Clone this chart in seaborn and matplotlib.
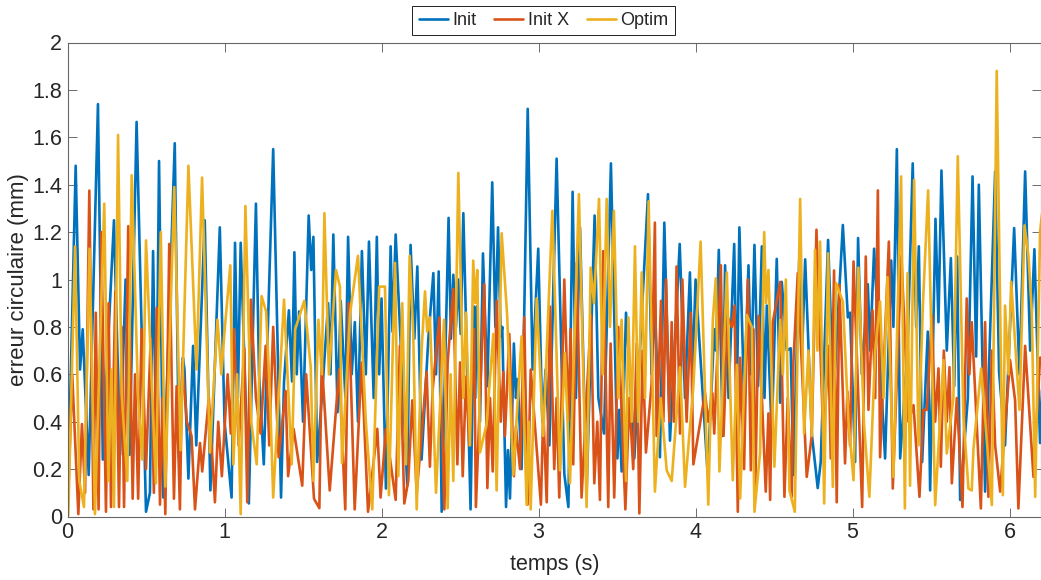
import seaborn as sns
import matplotlib
matplotlib.use("Agg")
import matplotlib.pyplot as plt

t_init = [0, .052, .08, .097, .135, .194, .225, .25, .296, .335, .37, .395, .44, .5, .525, .545, .565, .583, .61, .683,
          .71, .735, .745, .77, .80, .82, .874, .91, .97, 1.0, 1.045, 1.067, 1.085, 1.103, 1.155, 1.2, 1.22, 1.25, 1.31, 1.36,
          1.379, 1.41, 1.43, 1.445, 1.46, 1.475, 1.5, 1.536, 1.552, 1.566, 1.59, 1.63, 1.66, 1.675, 1.693, 1.72, 1.74, 1.77, 1.787, 1.81,
          1.83, 1.85, 1.875, 1.9, 1.92, 1.95, 1.97, 1.985, 2.0, 2.028, 2.058, 2.07, 2.09, 2.164, 2.185, 2.209, 2.228, 2.255, 2.298, 2.33,
          2.347, 2.364, 2.383, 2.427, 2.442, 2.457, 2.474, 2.489, 2.504, 2.521, 2.567, 2.589, 2.597, 2.606, 2.627, 2.646, 2.674, 2.705, 2.725, 2.742,
          2.759, 2.769, 2.793, 2.805, 2.818, 2.843, 2.856, 2.867, 2.892, 2.931, 2.962, 2.998, 3.024, 3.045, 3.069, 3.115, 3.164, 3.19, 3.217, 3.238,
          3.264, 3.306, 3.357, 3.381, 3.417, 3.461, 3.502, 3.514, 3.529, 3.557, 3.582, 3.61, 3.697, 3.72, 3.741, 3.773, 3.801, 3.837, 3.899, 3.933,
          3.964, 3.981, 4.0, 4.077, 4.119, 4.13, 4.148, 4.173, 4.188, 4.21, 4.246, 4.263, 4.279, 4.309, 4.337, 4.354, 4.375, 4.398, 4.422, 4.439,
          4.454, 4.485, 4.517, 4.539, 4.549, 4.581, 4.606, 4.623, 4.662, 4.679, 4.698, 4.74, 4.778, 4.797, 4.844, 4.878, 4.938, 4.97, 4.984, 5.016,
          5.035, 5.059, 5.097, 5.112, 5.137, 5.207, 5.246, 5.26, 5.282, 5.303, 5.35, 5.383, 5.405, 5.422, 5.443, 5.479, 5.494, 5.528, 5.547, 5.566,
          5.6, 5.626, 5.647, 5.666, 5.685, 5.734, 5.764, 5.787, 5.804, 5.844, 5.908, 5.933, 5.971, 6.029, 6.063, 6.099, 6.131, 6.158, 6.194, 6.21]
y_init = [0, 1.48, .62, .79, .175, 1.74, .24, .62, 1.25, .26, 1.0, .26, 1.665, .02, .1, 1.12, .3, 1.5, .08, 1.575,
          .25, .67, .62, .16, .72, .3, 1.25, .11, 1.22, .4, .08, 1.155, .5, 1.155, .055, 1.32, .6, .22, 1.55, .08,
          .57, .87, .57, 1.115, .6, .865, .4, 1.27, 1.04, 1.18, .23, .6, .9, .6, 1.19, .44, .91, .5, 1.18, .6,
          .82, .4, 1.12, .6, 1.16, .5, 1.18, .6, .92, .118, 1.14, .78, 1.19, .13, 1.146, .75, 1.055, .24, .75, 1.027,
          .6, 1.034, .02, 1.26, .75, 1.02, .8, 1.0, .77, 1.28, .03, .886, .5, .886, .4, 1.11, .55, 1.41, .8, 1.22,
          .76, .8, .04, .28, .076, .73, .5, .58, .2, 1.72, .62, 1.13, .4, .62, .3, 1.51, .18, .04, 1.37, .5,
          1.22, .1, 1.27, .5, .35, 1.49, .245, .45, .19, .86, .6, .245, 1.36, .6, .9, .25, 1.24, .32, 1.15, .5,
          1.03, .6, 1.0, .18, .79, .7, 1.125, .34, 1.06, .5, 1.15, .5, 1.22, .5, 1.06, .6, 1.146, .55, 1.14, .5,
          .89, .35, 1.087, .48, .99, .7, .71, .175, 1.125, .7, 1.085, .35, .12, .23, 1.167, .5, 1.23, .84, .86, .23,
          1.175, .6, .98, .7, 1.13, .245, 1.08, .8, 1.55, .245, .7, 1.49, .8, 1.14, .23, .78, .11, 1.256, .82, 1.46,
          .7, 1.09, .55, 1.097, .07, .5, 1.435, .675, 1.40, .105, 1.456, .61, .3, 1.217, .6, 1.456, .7, 1.128, .31, .6]

t_initx = [0, .03, .069, .092, .112, .139, .165, .18, .198, .215, .245, .262, .277, .305, .328, .345, .36, .387, .415, .43,
           .45, .472, .5, .53, .55, .568, .589, .605, .623, .648, .678, .695, .716, .731, .76, .79, .812, .844, .858, .90,
           .939, .96, .983, 1.02, 1.04, 1.06, 1.09, 1.126, 1.145, 1.168, 1.2, 1.23, 1.262, 1.285, 1.31, 1.345, 1.389, 1.405, 1.44, 1.495,
           1.52, 1.57, 1.604, 1.619, 1.67, 1.73, 1.769, 1.79, 1.829, 1.873, 1.914, 1.973, 1.994, 2.028, 2.09, 2.117, 2.145, 2.17, 2.196, 2.224,
           2.255, 2.287, 2.308, 2.325, 2.368, 2.4, 2.421, 2.457, 2.483, 2.5, 2.517, 2.538, 2.559, 2.589, 2.601, 2.627, 2.654, 2.674, 2.691, 2.708,
           2.733, 2.759, 2.776, 2.786, 2.814, 2.843, 2.856, 2.882, 2.909, 2.93, 2.95, 3.015, 3.03, 3.052, 3.073, 3.1, 3.115, 3.132, 3.164, 3.19,
           3.204, 3.221, 3.243, 3.274, 3.306, 3.334, 3.355, 3.374, 3.391, 3.412, 3.444, 3.459, 3.482, 3.508, 3.553, 3.578, 3.603, 3.625, 3.642, 3.663,
           3.684, 3.72, 3.741, 3.752, 3.78, 3.795, 3.812, 3.833, 3.848, 3.862, 3.879, 3.901, 3.916, 3.943, 3.969, 3.986, 4.06, 4.081, 4.107, 4.119,
           4.161, 4.178, 4.205, 4.231, 4.248, 4.269, 4.284, 4.309, 4.333, 4.352, 4.369, 4.379, 4.401, 4.447, 4.464, 4.475, 4.492, 4.539, 4.566, 4.587,
           4.613, 4.623, 4.651, 4.708, 4.74, 4.77, 4.815, 4.846, 4.861, 4.882, 4.899, 4.916, 4.952, 4.967, 4.984, 5.006, 5.061, 5.084, 5.101, 5.127,
           5.144, 5.161, 5.175, 5.231, 5.256, 5.311, 5.356, 5.388, 5.426, 5.451, 5.473, 5.505, 5.526, 5.547, 5.562, 5.581, 5.6, 5.617, 5.632, 5.664,
           5.7, 5.727, 5.744, 5.759, 5.817, 5.844, 5.865, 5.887, 5.908, 5.94, 6.003, 6.035, 6.056, 6.099, 6.152, 6.194, 6.21]
y_initx = [0, .6, .01, .39, .1, 1.375, .03, .86, .03, 1.2, .02, .9, .04, .95, .04, .8, .04, 1.225, .075, .6,
           .075, .79, .2, .75, .1, .88, .05, .5, .01, 1.15, .075, .55, .03, .65, .4, .34, .03, .31, .19, .5,
           .06, .4, .17, .6, .35, .79, .3, .71, .06, .915, .5, .35, .72, .3, .8, .25, .53, .17, .37, .13,
           .6, .075, .035, .66, .11, .62, .03, .9, .03, .65, .02, .37, .08, .37, .07, .72, .055, .15, .49, .1,
           .34, .61, .21, .53, .84, .03, .65, .96, .22, .65, .17, .59, .3, .79, .04, .5, .98, .12, .5, .19,
           .91, .4, .61, .34, .77, .17, .38, .2, .84, .05, .62, .05, .45, .06, .886, .2, .5, .08, 1.0, .4,
           .79, .22, 1.07, .08, .5, .85, .14, .4, .07, 1.12, .04, .73, .08, .80, .03, .5, .2, .73, .013, .7,
           .27, .56, 1.24, .34, .91, .4, 1.0, .4, .82, .4, 1.055, .35, 1.0, .4, .86, .22, .52, .4, .52, .35,
           1.06, .34, .84, .8, .89, .02, .67, .2, 1.0, .195, .79, .076, .846, .105, .435, .07, .82, .99, .083, .5,
           .083, .65, 1.027, .167, .34, 1.21, .3, .72, .245, 1.038, .06, .977, .224, .527, .3, 1.076, .04, 1.097, .45, .87,
           .5, 1.376, .25, 1.16, .118, 1.10, .4, .47, .083, .45, .45, .85, .4, .625, .21, .70, .4, .63, .14, .5,
           .04, .92, .6, .82, .034, .82, .083, .7, .3, .105, .66, .49, .034, .72, .167, .67, .67]

t_optim = [0, .005, .02, .048, .075, .105, .14, .175, .234, .26, .28, .296, .322, .345, .381, .409, .45, .476, .5, .563,
           .594, .623, .68, .72, .77, .822, .857, .907, .955, .98, 1.0, 1.037, 1.056, 1.08, 1.103, 1.133, 1.17, 1.205, 1.236, 1.265,
           1.29, 1.31, 1.379, 1.428, 1.45, 1.508, 1.549, 1.566, 1.598, 1.62, 1.636, 1.665, 1.71, 1.735, 1.748, 1.80, 1.85, 1.9, 1.941, 1.985,
           2.022, 2.047, 2.086, 2.107, 2.132, 2.156, 2.179, 2.202, 2.224, 2.255, 2.277, 2.291, 2.308, 2.347, 2.398, 2.421, 2.44, 2.457, 2.489, 2.521,
           2.538, 2.563, 2.584, 2.597, 2.61, 2.627, 2.669, 2.712, 2.733, 2.765, 2.80, 2.839, 2.892, 2.924, 2.937, 2.95, 2.988, 3.03, 3.088, 3.136,
           3.168, 3.2, 3.257, 3.306, 3.332, 3.353, 3.385, 3.408, 3.434, 3.455, 3.48, 3.508, 3.529, 3.557, 3.572, 3.593, 3.614, 3.635, 3.657, 3.678,
           3.701, 3.741, 3.778, 3.816, 3.848, 3.901, 3.933, 3.986, 4.032, 4.081, 4.11, 4.129, 4.152, 4.199, 4.237, 4.263, 4.284, 4.326, 4.358, 4.375,
           4.411, 4.437, 4.449, 4.464, 4.502, 4.539, 4.556, 4.575, 4.598, 4.632, 4.666, 4.691, 4.719, 4.74, 4.761, 4.776, 4.793, 4.819, 4.844, 4.874,
           4.895, 4.938, 4.974, 5.006, 5.037, 5.073, 5.107, 5.144, 5.175, 5.197, 5.222, 5.26, 5.309, 5.333, 5.35, 5.366, 5.392, 5.42, 5.447, 5.481,
           5.526, 5.579, 5.6, 5.642, 5.67, 5.706, 5.738, 5.759, 5.77, 5.819, 5.887, 5.918, 5.957, 5.971, 5.993, 6.01, 6.063, 6.095, 6.12, 6.141,
           6.163, 6.194, 6.21]
y_optim = [0, .006, .4, 1.14, .15, .04, 1.13, .01, 1.32, .15, .62, .04, 1.61, .52, .15, 1.44, .5, .24, 1.165, .14,
           1.2, .126, 1.39, .28, 1.48, .62, 1.43, .27, .83, .6, .78, 1.06, .22, .6, .01, 1.31, .4, .22, .93, .865,
           .5, .08, .915, .22, .79, .91, .63, .15, .83, .6, 1.28, .6, 1.04, .97, .225, .86, 1.1, .4, .03, .97,
           .97, .09, 1.07, .17, .90, .22, 1.10, .77, .03, .70, .95, .78, .84, .10, .83, .035, .6, .15, 1.45, .5,
           .86, .3, 1.08, .9, 1.04, .27, .39, .77, .11, 1.195, .85, .175, .76, .05, .4, .03, .92, .34, 1.29, .195,
           .69, .14, 1.36, .04, 1.05, .9, 1.34, .6, 1.34, .8, 1.29, .5, .83, .15, .84, .4, 1.14, .4, 1.03, .5,
           1.33, .105, .5, .195, .15, .63, .125, .55, 1.16, .05, .83, 1.005, .19, 1.03, .153, .64, .076, .85, .8, .02,
           .27, 1.2, .9, 1.04, .21, .83, .6, 1.0, .11, .02, 1.34, .35, .70, .34, 1.125, .7, 1.16, .055, 1.11, .125,
           .985, .907, .4, .153, 1.05, .39, .083, .7, .907, .5, 1.01, .167, 1.435, .034, 1.027, .13, 1.42, .3, .88, 1.376,
           .048, .66, .266, .5, 1.52, .42, .118, .11, .287, .625, .048, 1.88, .09, .89, .6, .99, .45, 1.228, 1.1, .87,
           .083, 1.2, 1.3]

series_names = ["Init", "Init X", "Optim"]
series_colors = ["#0072BD", "#D95319", "#EDB120"]
y_ticks = [0, .2, .4, .6, .8, 1, 1.2, 1.4, 1.6, 1.8, 2]
y_tick_labels = ["0", "0.2", "0.4", "0.6", "0.8", "1", "1.2", "1.4", "1.6", "1.8", "2"]
x_ticks = [0, 1, 2, 3, 4, 5, 6]

sns.set_theme(style="ticks")
plt.rcParams["font.family"] = ["Liberation Sans", "DejaVu Sans"]

fig = plt.figure(figsize=(10.41, 5.8), dpi=100)
ax = fig.add_axes([67.5 / 1041, (580 - 516.5) / 580, (1041 - 67.5) / 1041, (516.5 - 42.5) / 580])

all_t = [t_init, t_initx, t_optim]
all_y = [y_init, y_initx, y_optim]
for t, y, name, col in zip(all_t, all_y, series_names, series_colors):
    sns.lineplot(x=t, y=y, ax=ax, color=col, label=name, linewidth=1.9, estimator=None, errorbar=None,
                 solid_joinstyle="round")

ax.set_xlim(0, 6.2)
ax.set_ylim(0, 2)
ax.set_xticks(x_ticks)
ax.set_yticks(y_ticks)
ax.set_yticklabels(y_tick_labels)
ax.tick_params(direction="in", length=6.5, width=0.6, color="#555555", labelcolor="#262626",
               labelsize=15.5, top=True, right=True, pad=4)
for s in ax.spines.values():
    s.set_color("#666666")
    s.set_linewidth(0.8)
ax.set_xlabel("temps (s)", fontsize=15.5, color="#262626", labelpad=8)
ax.set_ylabel("erreur circulaire (mm)", fontsize=16, color="#262626", labelpad=2)

# legend sits above the axes, centred on x=543 px
leg = ax.legend(loc="lower center", bbox_to_anchor=((543.5 - 67.5) / 973.5, 1.015), ncol=3,
                frameon=True, fancybox=False, edgecolor="#222222", framealpha=1, fontsize=13,
                handlelength=1.6, handletextpad=0.25, columnspacing=1.0, borderpad=0.35, borderaxespad=0)
leg.get_frame().set_linewidth(0.7)
for txt in leg.get_texts():
    txt.set_color("#262626")

fig.savefig("out.png", dpi=100)
